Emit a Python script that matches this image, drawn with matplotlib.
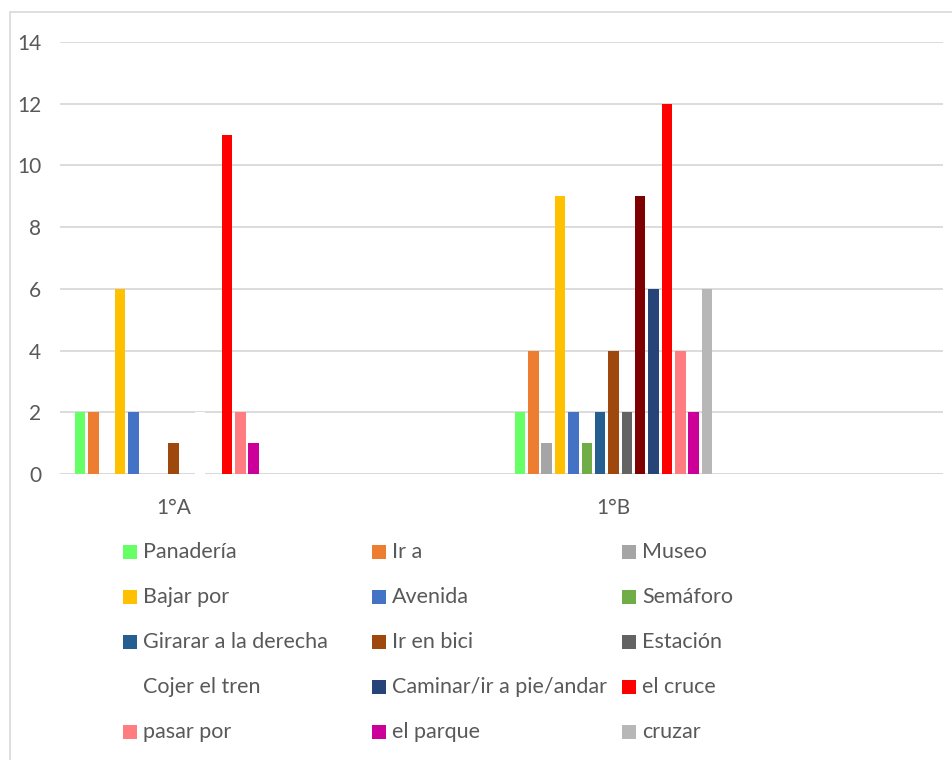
import matplotlib.pyplot as plt
from matplotlib.patches import Rectangle
import numpy as np

plt.rcParams['font.family'] = ['Lato', 'DejaVu Sans']

categories = ['1°A', '1°B']
series = ['Panadería', 'Ir a', 'Museo', 'Bajar por', 'Avenida', 'Semáforo',
          'Girarar a la derecha', 'Ir en bici', 'Estación', 'Cojer el tren',
          'Caminar/ir a pie/andar', 'el cruce', 'pasar por', 'el parque', 'cruzar']
values_1a = [2, 2, 0, 6, 2, 0, 0, 1, 0, 2, 0, 11, 2, 1, 0]
values_1b = [2, 4, 1, 9, 2, 1, 2, 4, 2, 9, 6, 12, 4, 2, 6]
colors = ['#66FF66', '#ED7D31', '#A5A5A5', '#FFC000', '#4472C4', '#70AD47',
          '#255E91', '#9E480E', '#636363', '#FFFFFF', '#264478', '#FF0000',
          '#FF7C80', '#CC0099', '#B7B7B7']
# one point of "Cojer el tren" is coloured by hand in the original
point_colors_1b = list(colors)
point_colors_1b[9] = '#7F0000'

text_color = '#595959'
grid_color = '#D9D9D9'

fig = plt.figure(figsize=(9.53, 7.6), dpi=100)
W, H = 953, 760

# chart border
fig.patches.append(Rectangle((10 / W, -0.1), 1.0, 1 - 12 / H + 0.1,
                             transform=fig.transFigure, fill=False,
                             edgecolor=grid_color, lw=1.2))

ax = fig.add_axes([60 / W, 1 - 474 / H, 883 / W, 432 / H])

x = np.arange(len(categories))
slot = 13.36 / 440
width = 10.5 / 440
for i, name in enumerate(series):
    off = (i - 7) * slot
    ax.bar(x + off, [values_1a[i], values_1b[i]], width,
           color=[colors[i], point_colors_1b[i]], zorder=3)

ax.set_xlim((60 - 173.5) / 440, (943 - 173.5) / 440)
ax.set_ylim(0, 14)
ax.set_yticks(np.arange(0, 15, 2))
ax.set_xticks(x)
ax.set_xticklabels(categories)
ax.yaxis.grid(True, color=grid_color, lw=1.3, zorder=0)
ax.set_axisbelow(True)
for s in ax.spines.values():
    s.set_visible(False)
ax.axhline(0, color=grid_color, lw=1.3, zorder=1)
ax.tick_params(axis='both', length=0, labelsize=15, labelcolor=text_color)
ax.tick_params(axis='y', pad=13.5)
ax.tick_params(axis='x', pad=17)

# legend, three columns
col_x = [123, 372, 622]
row_y = [552, 597, 642, 687, 732]
for i, name in enumerate(series):
    cx = col_x[i % 3]
    cy = row_y[i // 3]
    fig.patches.append(Rectangle((cx / W, 1 - (cy + 7) / H), 14 / W, 14 / H,
                                 transform=fig.transFigure, facecolor=colors[i],
                                 edgecolor='none'))
    fig.text((cx + 20) / W, 1 - cy / H, name, fontsize=15.5, color=text_color,
             va='center', ha='left')

fig.savefig('out.png', dpi=100)
